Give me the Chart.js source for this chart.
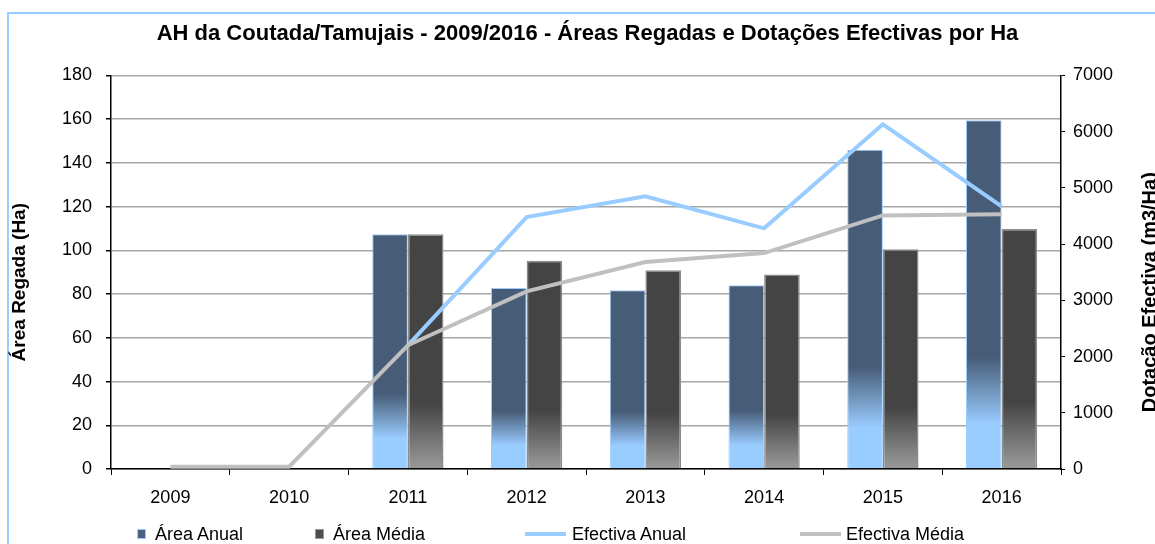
<!DOCTYPE html>
<html>
<head>
<meta charset="utf-8">
<title>AH da Coutada/Tamujais</title>
<script src="https://cdn.jsdelivr.net/npm/chart.js@4.4.0/dist/chart.umd.min.js"></script>
<style>
  html, body { margin: 0; padding: 0; background: #fff; overflow: hidden; }
  #frame { position: absolute; left: 7px; top: 12px; width: 1300px; height: 700px; border: 2px solid #99ccff; }
  #wrap { position: absolute; left: 0; top: 0; width: 1175px; height: 544px; }
  #legend { position: absolute; left: 0; top: 524px; height: 20px; font: 18px "Liberation Sans", Arial, sans-serif; color: #000; }
  #legend span { position: absolute; white-space: nowrap; line-height: 20px; top: 0; }
  #legend i { position: absolute; display: block; box-sizing: border-box; }
</style>
</head>
<body>
<div id="frame"></div>
<div id="wrap"><canvas id="chart" width="1175" height="544"></canvas></div>
<div id="legend">
  <i style="left:137px;top:5px;width:9px;height:10px;background:#4a6180;border:1px solid #99ccff;"></i>
  <span style="left:155px;">Área Anual</span>
  <i style="left:315px;top:5px;width:9px;height:10px;background:#4d4d4d;border:1px solid #999;"></i>
  <span style="left:333px;">Área Média</span>
  <i style="left:525px;top:8px;width:41px;height:4px;background:#99ccff;"></i>
  <span style="left:572px;">Efectiva Anual</span>
  <i style="left:800px;top:8px;width:41px;height:4px;background:#c0c0c0;"></i>
  <span style="left:846px;">Efectiva Média</span>
</div>

<script>
// DATA
var years = ["2009", "2010", "2011", "2012", "2013", "2014", "2015", "2016"];

// area regada (Ha) - left axis
var areaAnual = [null, null, 107.4, 82.8, 81.8, 84, 146, 159.5];
var areaMedia = [null, null, 107.4, 95.2, 90.9, 89, 100.5, 109.7];

// dotacao efectiva (m3/Ha) - right axis
var efectivaAnual = [null, null, 2200, 4480, 4850, 4280, 6130, 4670];
var efectivaMedia = [40, 40, 2200, 3160, 3680, 3840, 4510, 4530];

var leftTicks = [0, 20, 40, 60, 80, 100, 120, 140, 160, 180];
var rightTicks = [0, 1000, 2000, 3000, 4000, 5000, 6000, 7000];

var FONT = '"Liberation Sans", Arial, sans-serif';


// BAR GRADIENT (dark on top, light towards the base, per bar)
function barGradient(topColor, bottomColor, from, to) {
  return function (ctx) {
    var chart = ctx.chart;
    if (!chart.chartArea || ctx.raw == null) return topColor;
    var y = chart.scales.y;
    var yTop = y.getPixelForValue(ctx.raw);
    var yBase = y.getPixelForValue(0);
    if (!isFinite(yTop) || yBase - yTop < 1) return topColor;
    var g = chart.ctx.createLinearGradient(0, yTop, 0, yBase);
    g.addColorStop(0, topColor);
    g.addColorStop(from, topColor);
    g.addColorStop(to, bottomColor);
    g.addColorStop(1, bottomColor);
    return g;
  };
}


// AXIS TITLES (both read bottom to top)
function sideTitle(c, text, x, y, size) {
  c.save();
  c.translate(x, y);
  c.rotate(-Math.PI / 2);
  c.font = "bold " + size + "px " + FONT;
  c.fillStyle = "#000";
  c.textAlign = "center";
  c.textBaseline = "middle";
  c.fillText(text, 0, 0);
  c.restore();
}

var axisTitles = {
  id: "axisTitles",
  afterDraw: function (chart) {
    var mid = (chart.chartArea.top + chart.chartArea.bottom) / 2;
    sideTitle(chart.ctx, "Área Regada (Ha)", 20, mid + 10, 19);
    sideTitle(chart.ctx, "Dotação Efectiva (m3/Ha)", 1150, mid + 20, 20);
  },
};


// CHART
new Chart(document.getElementById("chart"), {
  type: "bar",
  data: {
    labels: years,
    datasets: [
      {
        label: "Área Anual",
        data: areaAnual,
        yAxisID: "y",
        order: 2,
        backgroundColor: barGradient("#475c77", "#99ccff", 0.68, 0.87),
        borderColor: "#99ccff",
        borderWidth: 1,
      },
      {
        label: "Área Média",
        data: areaMedia,
        yAxisID: "y",
        order: 2,
        backgroundColor: barGradient("#444444", "#959595", 0.72, 0.98),
        borderColor: "#8c8c8c",
        borderWidth: 1.5,
      },
      {
        type: "line",
        label: "Efectiva Anual",
        data: efectivaAnual,
        yAxisID: "y1",
        order: 1,
        borderColor: "#99ccff",
        borderWidth: 4,
        pointRadius: 0,
        tension: 0,
        fill: false,
      },
      {
        type: "line",
        label: "Efectiva Média",
        data: efectivaMedia,
        yAxisID: "y1",
        order: 0,
        borderColor: "#c0c0c0",
        borderWidth: 4,
        pointRadius: 0,
        tension: 0,
        fill: false,
      },
    ],
  },
  options: {
    responsive: false,
    animation: false,
    layout: { padding: 0 },
    datasets: {
      bar: { categoryPercentage: 0.6, barPercentage: 1 },
    },
    plugins: {
      legend: { display: false },
      tooltip: { enabled: false },
      title: {
        display: true,
        text: "AH da Coutada/Tamujais - 2009/2016 - Áreas Regadas e Dotações Efectivas por Ha",
        color: "#000",
        font: { family: FONT, size: 22, weight: "bold", lineHeight: 1.2 },
        padding: { top: 21, bottom: 28 },
      },
    },
    scales: {
      x: {
        offset: true,
        grid: { drawOnChartArea: false, color: "#000", tickLength: 6, offset: true },
        border: { color: "#000", width: 1.5 },
        ticks: { color: "#000", font: { family: FONT, size: 18 }, padding: 12, maxRotation: 0 },
        afterFit: function (s) { s.height = 75; },
      },
      y: {
        position: "left",
        min: 0,
        max: 180,
        afterBuildTicks: function (s) { s.ticks = leftTicks.map(function (v) { return { value: v }; }); },
        grid: { color: "#a6a6a6", tickColor: "#000", tickLength: 5, lineWidth: 1.5 },
        border: { color: "#000", width: 1.5 },
        ticks: { color: "#000", font: { family: FONT, size: 18 }, padding: 14 },
        afterFit: function (s) { s.width = 111; },
      },
      y1: {
        position: "right",
        min: 0,
        max: 7000,
        afterBuildTicks: function (s) { s.ticks = rightTicks.map(function (v) { return { value: v }; }); },
        grid: { drawOnChartArea: false, tickColor: "#000", tickLength: 4 },
        border: { color: "#000", width: 1.5 },
        ticks: {
          color: "#000",
          font: { family: FONT, size: 18 },
          padding: 8,
          callback: function (v) { return String(v); },
        },
        afterFit: function (s) { s.width = 114; },
      },
    },
  },
  plugins: [axisTitles],
});
</script>
</body>
</html>
